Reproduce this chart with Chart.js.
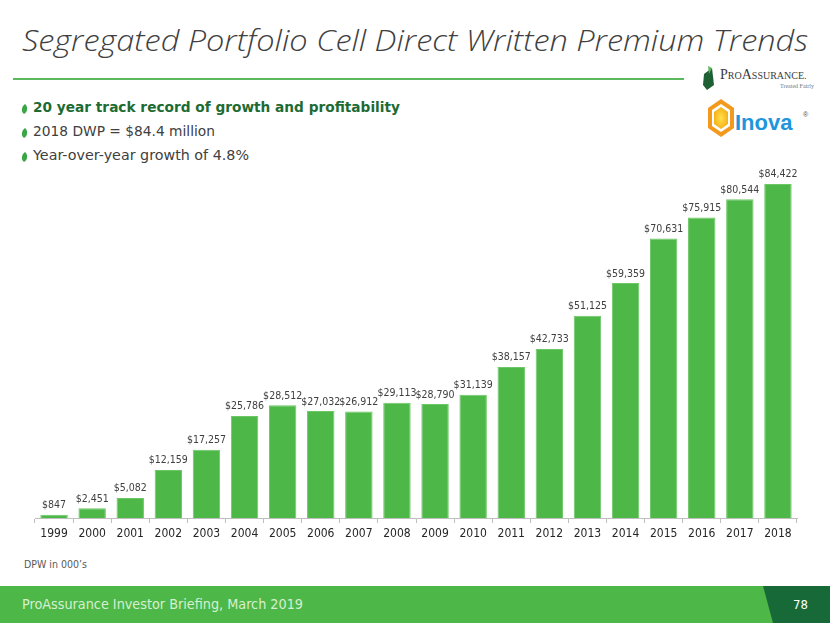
<!DOCTYPE html>
<html>
<head>
<meta charset="utf-8">
<script src="https://cdn.jsdelivr.net/npm/chart.js@4.4.1/dist/chart.umd.min.js"></script>
<style>
  html, body { margin: 0; padding: 0; background: #fff; }
  body { width: 830px; height: 623px; position: relative; overflow: hidden; font-family: "DejaVu Sans", Verdana, sans-serif; }
  #title { position: absolute; left: 22px; top: 19px; white-space: nowrap; font-family: "Open Sans", sans-serif; font-style: italic; font-weight: 300; font-size: 30px; color: #404040; transform-origin: 0 0; }
  #rule { position: absolute; left: 13px; top: 78px; width: 671px; height: 2px; background: #5cb85c; }
  .bul { position: absolute; left: 20px; white-space: nowrap; font-size: 14.5px; color: #404040; }
  .bul svg { position: absolute; left: 0; top: 4px; }
  .bul span { position: absolute; left: 13px; top: 0; display: inline-block; transform-origin: 0 0; }
  #b1 { top: 99px; font-weight: bold; color: #1d6b33; }
  #b2 { top: 123px; }
  #b3 { top: 147px; }
  #wrap { position: absolute; left: 0; top: 150px; width: 830px; height: 400px; }
  #note { position: absolute; left: 24px; top: 559px; font-size: 10px; color: #595959; transform-origin: 0 0; }
  #footer { position: absolute; left: 0; top: 586px; width: 830px; height: 37px; }
  #ftext { position: absolute; left: 22px; top: 596px; white-space: nowrap; font-family: "DejaVu Sans Condensed", "DejaVu Sans", sans-serif; font-size: 14.5px; color: #d6efd0; transform-origin: 0 0; }
  #pnum { position: absolute; left: 793px; top: 597px; font-family: "DejaVu Sans Condensed", sans-serif; font-size: 13px; color: #fff; }
  #logo1 { position: absolute; left: 700px; top: 64px; }
  #logo2 { position: absolute; left: 700px; top: 96px; }
</style>
</head>
<body>
<div id="title">Segregated Portfolio Cell Direct Written Premium Trends</div>
<div id="rule"></div>

<svg id="logo1" width="115" height="30">
  <path d="M4,10 L12,4 L14,21 L7,26 L3,21 Z" fill="#1f5f34"/>
  <path d="M8,2 L12,4 L9,10 Z" fill="#5cb85c"/>
  <text x="20" y="15" font-family="Liberation Serif, serif" font-size="14" fill="#3a3a3a">P<tspan font-size="10">RO</tspan>A<tspan font-size="10">SSURANCE.</tspan></text>
  <text x="80" y="24" font-family="Liberation Serif, serif" font-size="6" fill="#777">Treated Fairly</text>
</svg>

<svg id="logo2" width="115" height="46">
  <defs>
    <radialGradient id="hg" cx="50%" cy="50%" r="50%">
      <stop offset="0%" stop-color="#ffe14a"/>
      <stop offset="100%" stop-color="#f7b21a"/>
    </radialGradient>
  </defs>
  <polygon points="21,3 34,12 34,32 21,41 8,32 8,12" fill="#f39a1e"/>
  <polygon points="21,8 30,14 30,30 21,36 12,30 12,14" fill="#fff"/>
  <polygon points="21,11 28,16 28,28 21,33 14,28 14,16" fill="url(#hg)"/>
  <text x="35" y="34" font-family="Liberation Sans, sans-serif" font-weight="bold" font-size="22" fill="#1e96dc">Inova</text>
  <text x="103" y="21" font-family="Liberation Sans, sans-serif" font-size="7" fill="#555">®</text>
</svg>

<div class="bul" id="b1"><svg width="10" height="12"><path d="M5,1 C8,3 8,9 4,11 C1,9 1,4 5,1 Z" fill="#3aa648"/></svg><span id="t1">20 year track record of growth and profitability</span></div>
<div class="bul" id="b2"><svg width="10" height="12"><path d="M5,1 C8,3 8,9 4,11 C1,9 1,4 5,1 Z" fill="#3aa648"/></svg><span id="t2">2018 DWP = $84.4 million</span></div>
<div class="bul" id="b3"><svg width="10" height="12"><path d="M5,1 C8,3 8,9 4,11 C1,9 1,4 5,1 Z" fill="#3aa648"/></svg><span id="t3">Year-over-year growth of 4.8%</span></div>

<div id="wrap"><canvas id="chart"></canvas></div>
<div id="note">DPW in 000’s</div>

<svg id="footer" width="830" height="37">
  <rect x="0" y="0" width="830" height="37" fill="#4db848"/>
  <polygon points="763,0 830,0 830,37 773,37" fill="#176a38"/>
</svg>
<div id="ftext">ProAssurance Investor Briefing, March 2019</div>
<div id="pnum">78</div>

<script>
// data (DWP, $000s)
const years = ['1999', '2000', '2001', '2002', '2003', '2004', '2005', '2006', '2007', '2008',
  '2009', '2010', '2011', '2012', '2013', '2014', '2015', '2016', '2017', '2018'];
const premiums = [847, 2451, 5082, 12159, 17257, 25786, 28512, 27032, 26912, 29113,
  28790, 31139, 38157, 42733, 51125, 59359, 70631, 75915, 80544, 84422];

// squeeze text to the slide's widths
function fitWidth(id, w) {
  const el = document.getElementById(id);
  const s = w / el.getBoundingClientRect().width;
  el.style.transform = 'scaleX(' + s + ')';
}
fitWidth('title', 786);
fitWidth('ftext', 281);
fitWidth('t1', 367);
fitWidth('t2', 182);
fitWidth('t3', 216);
fitWidth('note', 63);

const labelFont = '"DejaVu Sans Condensed", "DejaVu Sans", sans-serif';

const barLabels = {
  id: 'barLabels',
  afterDatasetsDraw(chart) {
    const ctx = chart.ctx;
    const meta = chart.getDatasetMeta(0);
    ctx.save();
    ctx.font = '10.5px ' + labelFont;
    ctx.fillStyle = '#404040';
    ctx.textAlign = 'center';
    ctx.textBaseline = 'bottom';
    meta.data.forEach((bar, i) => {
      ctx.fillText('$' + premiums[i].toLocaleString('en-US'), bar.x, bar.y - 4);
    });
    ctx.restore();
  },
};

new Chart(document.getElementById('chart'), {
  type: 'bar',
  data: {
    labels: years,
    datasets: [
      {
        label: 'DWP',
        data: premiums,
        backgroundColor: '#4db848',
        borderColor: '#6cc766',
        borderWidth: 1,
        categoryPercentage: 1,
        barPercentage: 0.72,
      },
    ],
  },
  options: {
    responsive: true,
    maintainAspectRatio: false,
    animation: false,
    layout: { padding: { left: 35, right: 33, top: 0, bottom: 0 } },
    scales: {
      x: {
        afterFit: (scale) => {
          scale.height = 32;
        },
        grid: {
          offset: true,
          drawOnChartArea: false,
          drawTicks: true,
          tickLength: 5,
          color: '#bfbfbf',
        },
        border: { color: '#bfbfbf' },
        ticks: {
          padding: 4,
          color: '#262626',
          font: { family: labelFont, size: 12 },
          maxRotation: 0,
          autoSkip: false,
        },
      },
      y: {
        display: false,
        min: 0,
        max: 93000,
      },
    },
    plugins: {
      legend: { display: false },
      tooltip: { enabled: false },
    },
  },
  plugins: [barLabels],
});
</script>
</body>
</html>
